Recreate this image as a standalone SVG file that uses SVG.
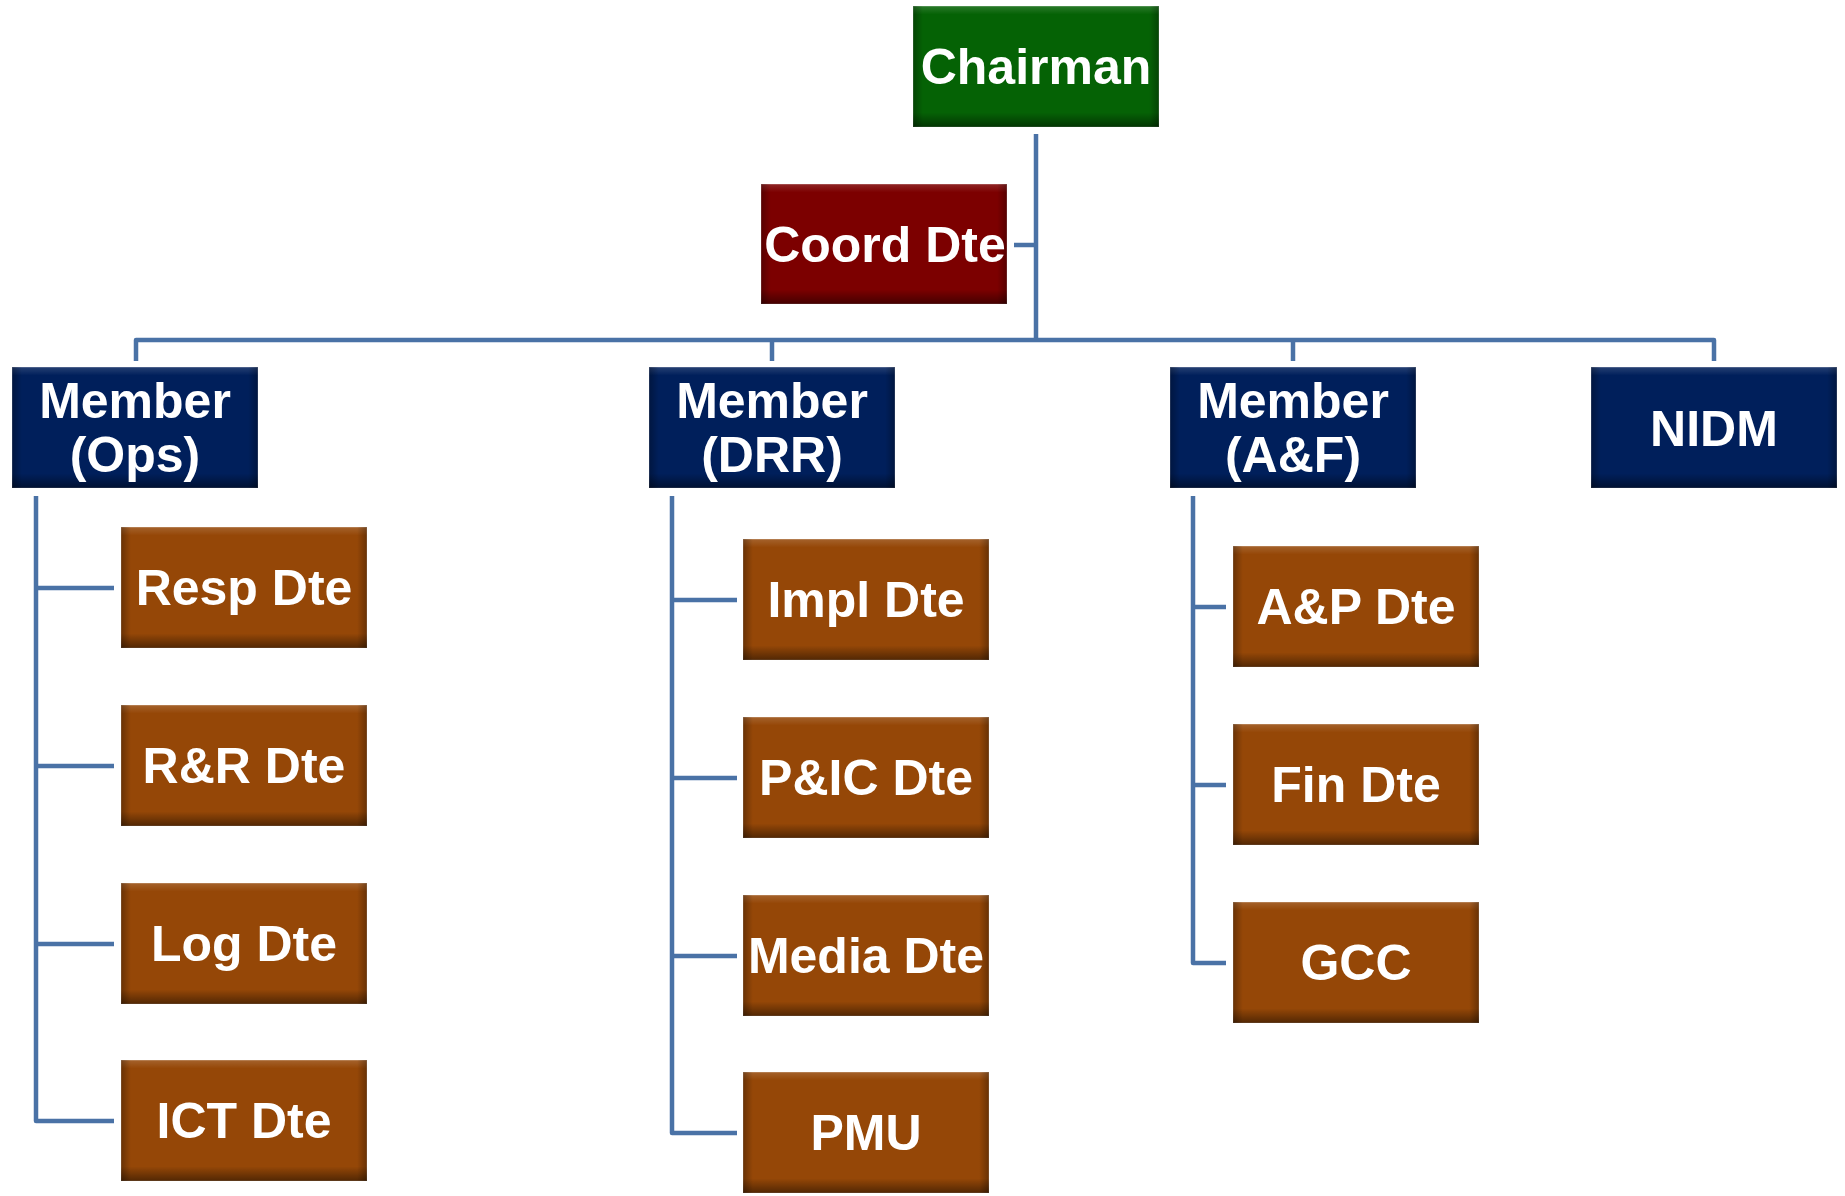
<svg xmlns="http://www.w3.org/2000/svg" width="1845" height="1196" viewBox="0 0 1845 1196">
<style>
.box{stroke:#ffffff;stroke-opacity:0.35;stroke-width:1}
.green{fill:#056205}
.red{fill:#7C0000}
.navy{fill:#001F5B}
.brown{fill:#954707}
.sv{fill:url(#shadeV)}
.sh{fill:url(#shadeH)}
.t{font-family:"Liberation Sans",Arial,sans-serif;font-weight:bold;font-size:50px;fill:#ffffff;text-anchor:middle}
.conn{fill:none;stroke:#4A72A6;stroke-width:4.5;stroke-linejoin:round;stroke-linecap:butt}
</style>
<defs>
<linearGradient id="shadeV" x1="0" y1="0" x2="0" y2="1">
<stop offset="0" stop-color="#ffffff" stop-opacity="0.15"/>
<stop offset="0.07" stop-color="#ffffff" stop-opacity="0"/>
<stop offset="0.88" stop-color="#000000" stop-opacity="0"/>
<stop offset="1" stop-color="#000000" stop-opacity="0.45"/>
</linearGradient>
<linearGradient id="shadeH" x1="0" y1="0" x2="1" y2="0">
<stop offset="0" stop-color="#000000" stop-opacity="0.3"/>
<stop offset="0.04" stop-color="#000000" stop-opacity="0"/>
<stop offset="0.96" stop-color="#000000" stop-opacity="0"/>
<stop offset="1" stop-color="#000000" stop-opacity="0.3"/>
</linearGradient>
</defs>
<rect x="0" y="0" width="1845" height="1196" fill="#ffffff"/>

<g id="connectors">
<path class="conn" d="M1036,134 V340"/>
<path class="conn" d="M1014,245 H1036"/>
<path class="conn" d="M136,361 V340 H1714 V361"/>
<path class="conn" d="M772,340 V361"/>
<path class="conn" d="M1293,340 V361"/>
<path class="conn" d="M36,496 V1121 H114"/>
<path class="conn" d="M36,588 H114 M36,766 H114 M36,944 H114"/>
<path class="conn" d="M672,496 V1133 H737"/>
<path class="conn" d="M672,600 H737 M672,778 H737 M672,956 H737"/>
<path class="conn" d="M1193,496 V963 H1226"/>
<path class="conn" d="M1193,607 H1226 M1193,785 H1226"/>
</g>

<g id="chairman">
<rect class="box green" x="913" y="6" width="246" height="121"/>
<rect class="sv" x="913" y="6" width="246" height="121"/><rect class="sh" x="913" y="6" width="246" height="121"/>
<text class="t" x="1036" y="84">Chairman</text>
</g>
<g id="coord-dte">
<rect class="box red" x="761" y="184" width="246" height="120"/>
<rect class="sv" x="761" y="184" width="246" height="120"/><rect class="sh" x="761" y="184" width="246" height="120"/>
<text class="t" x="885" y="262">Coord Dte</text>
</g>

<g id="member-ops">
<rect class="box navy" x="12" y="367" width="246" height="121"/>
<rect class="sv" x="12" y="367" width="246" height="121"/><rect class="sh" x="12" y="367" width="246" height="121"/>
<text class="t" x="135" y="418">Member</text>
<text class="t" x="135" y="472">(Ops)</text>
</g>
<g id="member-drr">
<rect class="box navy" x="649" y="367" width="246" height="121"/>
<rect class="sv" x="649" y="367" width="246" height="121"/><rect class="sh" x="649" y="367" width="246" height="121"/>
<text class="t" x="772" y="418">Member</text>
<text class="t" x="772" y="472">(DRR)</text>
</g>
<g id="member-af">
<rect class="box navy" x="1170" y="367" width="246" height="121"/>
<rect class="sv" x="1170" y="367" width="246" height="121"/><rect class="sh" x="1170" y="367" width="246" height="121"/>
<text class="t" x="1293" y="418">Member</text>
<text class="t" x="1293" y="472">(A&amp;F)</text>
</g>
<g id="nidm">
<rect class="box navy" x="1591" y="367" width="246" height="121"/>
<rect class="sv" x="1591" y="367" width="246" height="121"/><rect class="sh" x="1591" y="367" width="246" height="121"/>
<text class="t" x="1714" y="446">NIDM</text>
</g>

<g id="resp-dte">
<rect class="box brown" x="121" y="527" width="246" height="121"/>
<rect class="sv" x="121" y="527" width="246" height="121"/><rect class="sh" x="121" y="527" width="246" height="121"/>
<text class="t" x="244" y="605">Resp Dte</text>
</g>
<g id="rr-dte">
<rect class="box brown" x="121" y="705" width="246" height="121"/>
<rect class="sv" x="121" y="705" width="246" height="121"/><rect class="sh" x="121" y="705" width="246" height="121"/>
<text class="t" x="244" y="783">R&amp;R Dte</text>
</g>
<g id="log-dte">
<rect class="box brown" x="121" y="883" width="246" height="121"/>
<rect class="sv" x="121" y="883" width="246" height="121"/><rect class="sh" x="121" y="883" width="246" height="121"/>
<text class="t" x="244" y="961">Log Dte</text>
</g>
<g id="ict-dte">
<rect class="box brown" x="121" y="1060" width="246" height="121"/>
<rect class="sv" x="121" y="1060" width="246" height="121"/><rect class="sh" x="121" y="1060" width="246" height="121"/>
<text class="t" x="244" y="1138">ICT Dte</text>
</g>

<g id="impl-dte">
<rect class="box brown" x="743" y="539" width="246" height="121"/>
<rect class="sv" x="743" y="539" width="246" height="121"/><rect class="sh" x="743" y="539" width="246" height="121"/>
<text class="t" x="866" y="617">Impl Dte</text>
</g>
<g id="pic-dte">
<rect class="box brown" x="743" y="717" width="246" height="121"/>
<rect class="sv" x="743" y="717" width="246" height="121"/><rect class="sh" x="743" y="717" width="246" height="121"/>
<text class="t" x="866" y="795">P&amp;IC Dte</text>
</g>
<g id="media-dte">
<rect class="box brown" x="743" y="895" width="246" height="121"/>
<rect class="sv" x="743" y="895" width="246" height="121"/><rect class="sh" x="743" y="895" width="246" height="121"/>
<text class="t" x="866" y="973">Media Dte</text>
</g>
<g id="pmu">
<rect class="box brown" x="743" y="1072" width="246" height="121"/>
<rect class="sv" x="743" y="1072" width="246" height="121"/><rect class="sh" x="743" y="1072" width="246" height="121"/>
<text class="t" x="866" y="1150">PMU</text>
</g>

<g id="ap-dte">
<rect class="box brown" x="1233" y="546" width="246" height="121"/>
<rect class="sv" x="1233" y="546" width="246" height="121"/><rect class="sh" x="1233" y="546" width="246" height="121"/>
<text class="t" x="1356" y="624">A&amp;P Dte</text>
</g>
<g id="fin-dte">
<rect class="box brown" x="1233" y="724" width="246" height="121"/>
<rect class="sv" x="1233" y="724" width="246" height="121"/><rect class="sh" x="1233" y="724" width="246" height="121"/>
<text class="t" x="1356" y="802">Fin Dte</text>
</g>
<g id="gcc">
<rect class="box brown" x="1233" y="902" width="246" height="121"/>
<rect class="sv" x="1233" y="902" width="246" height="121"/><rect class="sh" x="1233" y="902" width="246" height="121"/>
<text class="t" x="1356" y="980">GCC</text>
</g>
</svg>
